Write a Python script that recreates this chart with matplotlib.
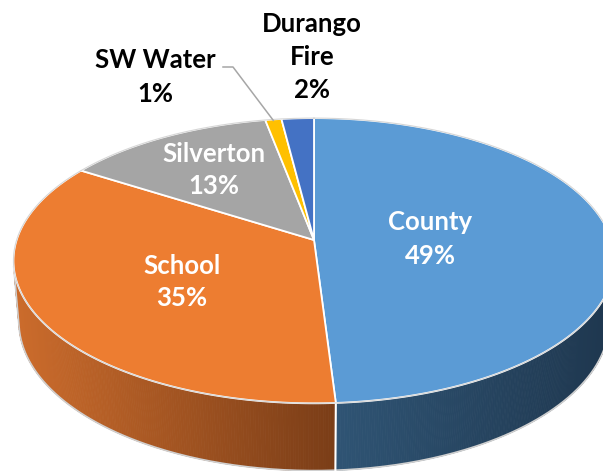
"""
3D pie chart of revenue share (Excel-style perspective pie)
"""

import numpy as np
import matplotlib.pyplot as plt
from matplotlib.colors import to_rgb

# ===== DATA =====

labels = ['County', 'School', 'Silverton', 'SW Water', 'Durango\nFire']
shares = [49, 35, 13, 1, 2]  # percent, clockwise from the back
top_colors = ['#5B9BD5', '#ED7D31', '#A5A5A5', '#FFC000', '#4472C4']
label_colors = ['white', 'white', 'white', 'black', 'black']

# ===== GEOMETRY (perspective camera) =====

elev = np.radians(28)  # camera elevation
L    = 6.08            # camera distance (in pie radii)
F    = 1808            # focal length in pixels
h    = 0.235           # pie thickness (in pie radii)
cx, cy = 314, 240      # image position of the pie centre

ce, se = np.cos(elev), np.sin(elev)

def project(phi, z):
    # phi measured clockwise from the back of the pie
    x = np.sin(phi)
    vy = np.cos(phi) + L * ce
    vz = z - L * se
    depth = vy * ce - vz * se
    up = vy * se + vz * ce
    return cx + F * x / depth, cy - F * up / depth

def lerp(c1, c2, t):
    a, b = np.array(to_rgb(c1)), np.array(to_rgb(c2))
    return tuple(a + (b - a) * t)

# side wall gradients (left colour, right colour) per slice
side_grad = {0: ('#2F5474', '#1F3850'),
             1: ('#CC6C2C', '#7A3D17')}

fig = plt.figure(figsize=(6.03, 4.71), dpi=100)
ax = fig.add_axes([0, 0, 1, 1])
ax.set_xlim(0, 603)
ax.set_ylim(471, 0)
ax.axis('off')

bounds = np.concatenate([[0], np.cumsum(shares)]) / np.sum(shares) * 2 * np.pi

# ----- side wall (only the part facing the camera) -----
phi_vis = np.arccos(-1 / (L * ce))
side_lo, side_hi = phi_vis, 2 * np.pi - phi_vis
x_left = project(np.radians(270), 0)[0] - 5
x_right = 603
x_front = project(bounds[1], 0)[0]
for k in range(len(shares)):
    a0 = max(bounds[k], side_lo)
    a1 = min(bounds[k + 1], side_hi)
    if a1 <= a0:
        continue
    ph = np.linspace(a0, a1, 200)
    for p0, p1 in zip(ph[:-1], ph[1:]):
        xs0, ys0 = project(p0, 0)
        xs1, ys1 = project(p1, 0)
        xb1, yb1 = project(p1, -h)
        xb0, yb0 = project(p0, -h)
        xm = (xs0 + xs1) / 2
        if k == 1:
            t = (xm - x_left) / (x_front - x_left)
        else:
            t = (xm - x_front) / (x_right - x_front)
        col = lerp(*side_grad.get(k, (top_colors[k], top_colors[k])), np.clip(t, 0, 1))
        ax.fill([xs0, xs1, xb1, xb0], [ys0, ys1, yb1, yb0], color=col, lw=0.6,
                ec=col, zorder=1)

# outline of the side bottom edge
ph = np.linspace(side_lo, side_hi, 300)
xb, yb = project(ph, -h)
ax.plot(xb, yb, color='#D0D0D0', lw=1.2, zorder=2)
for p in (side_lo, side_hi):
    xt, yt = project(p, 0)
    xbb, ybb = project(p, -h)
    ax.plot([xt, xbb], [yt, ybb], color='#D0D0D0', lw=1.2, zorder=2)

# vertical divider on the side between County and School
xt, yt = project(bounds[1], 0)
xbb, ybb = project(bounds[1], -h)
ax.plot([xt, xbb], [yt, ybb], color='white', lw=1.5, zorder=3)

# ----- top face -----
for k in range(len(shares)):
    ph = np.linspace(bounds[k], bounds[k + 1], 200)
    xs, ys = project(ph, 0)
    xs = np.concatenate([[cx], xs])
    ys = np.concatenate([[cy], ys])
    ax.fill(xs, ys, color=top_colors[k], ec='white', lw=1.3, zorder=4)

# outer grey rim of the top face
ph = np.linspace(0, 2 * np.pi, 400)
xs, ys = project(ph, 0)
ax.plot(xs, ys, color='#D6D6D6', lw=0.8, zorder=5)

# ----- labels -----
label_pos = [(430, 239), (182, 282), (214, 170), (155, 77), (312, 57)]
for k, (tx, ty) in enumerate(label_pos):
    ax.text(tx, ty, f'{labels[k]}\n{shares[k]}%', ha='center', va='center',
            fontsize=18.5, fontweight='bold', family=['Lato', 'DejaVu Sans'],
            color=label_colors[k], linespacing=1.45, zorder=6)

# leader line for SW Water
mid = (bounds[3] + bounds[4]) / 2
lx, ly = project(mid, 0)
ax.plot([223, 233, lx], [67, 67, ly + 1], color='#A6A6A6', lw=1.1, zorder=6)

plt.savefig('out.png', dpi=100)
